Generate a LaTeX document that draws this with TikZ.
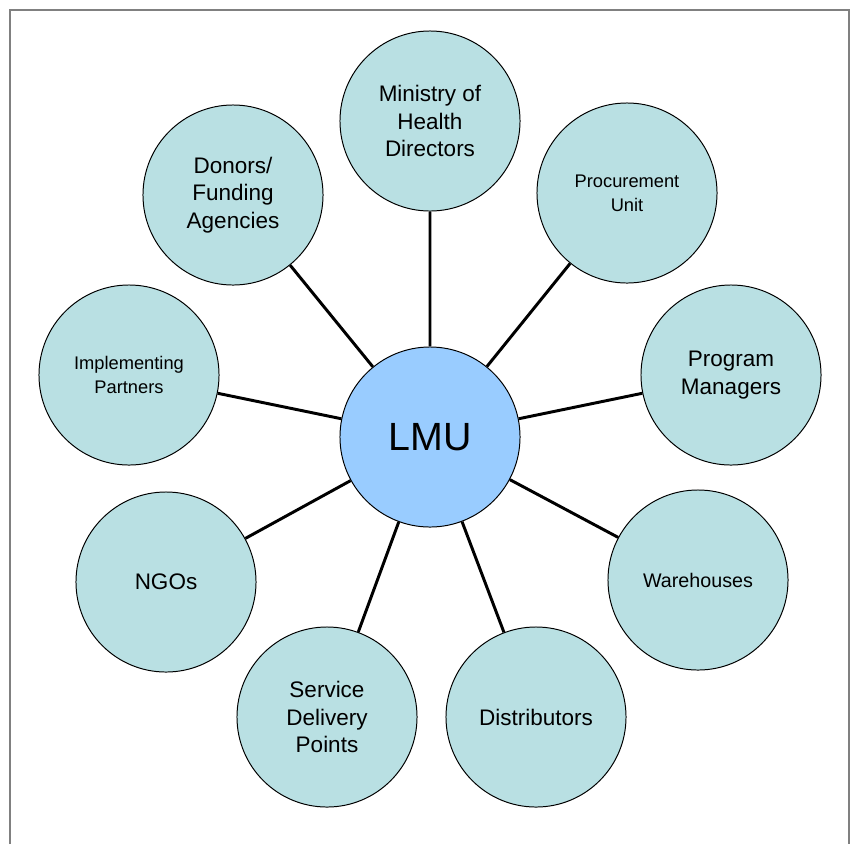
\documentclass[tikz,border=0pt]{standalone}
\usepackage{fontspec}
\setmainfont{Liberation Sans}
\definecolor{hubblue}{RGB}{153,204,255}
\definecolor{partcyan}{RGB}{185,224,227}
\tikzset{
    party/.style = {draw, circle, fill=partcyan, line width=0.7pt,
                    minimum size=4.5cm, inner sep=0pt, align=center,
                    font=\fontsize{16}{19.5}\selectfont},
    smallparty/.style = {party, font=\fontsize{13}{17}\selectfont},
    hub/.style = {party, fill=hubblue, font=\fontsize{28}{32}\selectfont},
    spoke/.style = {line width=2.1pt}
}
\begin{document}
\begin{tikzpicture}[x=0.025cm, y=-0.025cm]
        \useasboundingbox (0, 0) rectangle (854, 844);
        \draw[gray, line width=1.4pt] (10, 844) -- (10, 10) -- (849, 10) -- (849, 844);

        \draw[spoke]
            (430, 437) node (lmu)  [hub] {LMU}
            (430, 121) node (moh)  [party] {Ministry of\\Health\\Directors}
            (627, 193) node (proc) [smallparty] {Procurement\\Unit}
            (731, 375) node (prog) [party] {Program\\Managers}
            (698, 580) node (ware) [smallparty, font=\fontsize{14}{17}\selectfont] {Warehouses}
            (536, 717) node (dist) [party] {Distributors}
            (327, 717) node (sdp)  [party] {Service\\Delivery\\Points}
            (166, 582) node (ngo)  [party] {NGOs}
            (129, 375) node (impl) [smallparty] {Implementing\\Partners}
            (233, 195) node (don)  [party] {Donors/\\Funding\\Agencies}

            (lmu) -- (moh)
            (lmu) -- (proc)
            (lmu) -- (prog)
            (lmu) -- (ware)
            (lmu) -- (dist)
            (lmu) -- (sdp)
            (lmu) -- (ngo)
            (lmu) -- (impl)
            (lmu) -- (don);
    \end{tikzpicture}
\end{document}
